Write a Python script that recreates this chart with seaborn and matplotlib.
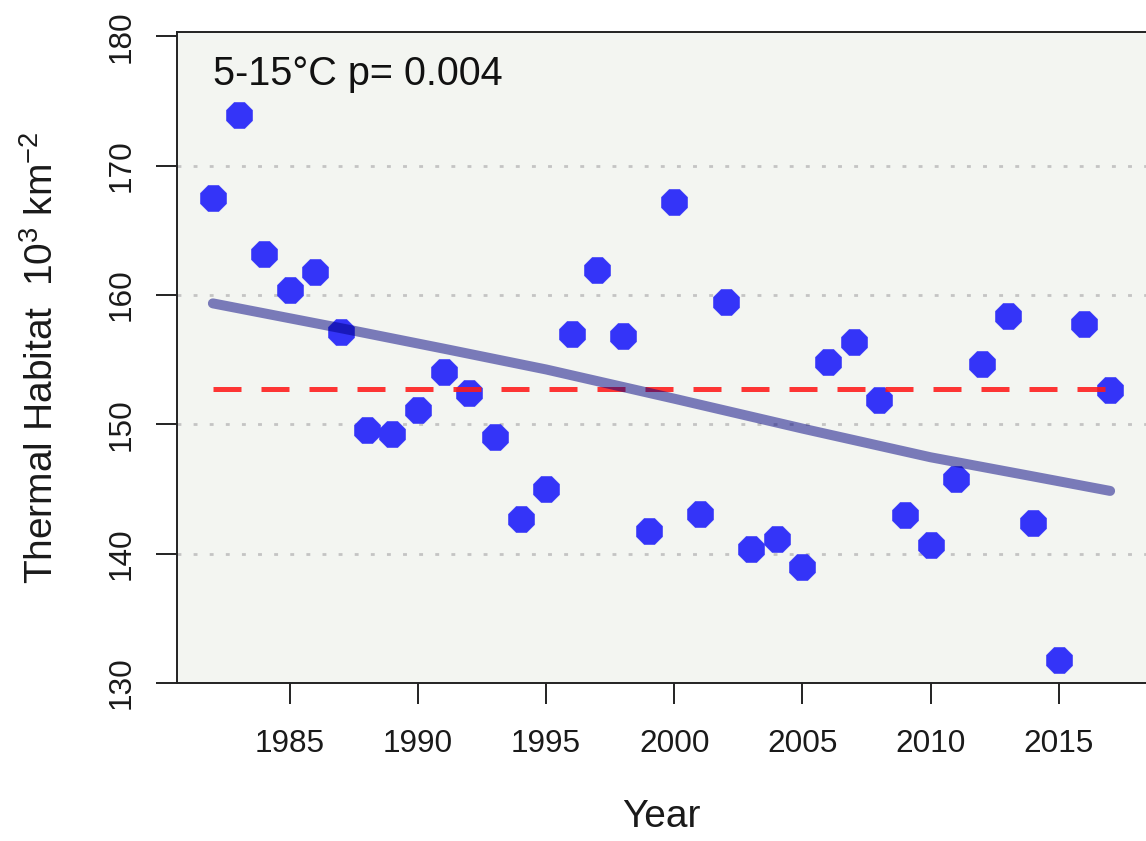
import matplotlib
matplotlib.use("Agg")
import matplotlib.pyplot as plt
import numpy as np
import pandas as pd
import seaborn as sns

# ---- data ----
years = list(range(1982, 2018))
habitat = [167.46, 173.95, 163.18, 160.41, 161.77, 157.15, 149.59, 149.28, 151.13,
           154.08, 152.41, 149.00, 142.67, 144.98, 156.95, 161.90, 156.82, 141.77,
           167.15, 143.10, 159.46, 140.36, 141.13, 138.95, 154.80, 156.33, 151.90,
           142.97, 140.67, 145.74, 154.67, 158.36, 142.36, 131.77, 157.75, 152.67]
trend_years = [1982, 1987, 1991, 1995, 2000, 2005, 2010, 2014, 2017]
trend_values = [159.35, 157.43, 155.85, 154.24, 151.98, 149.67, 147.45, 145.97, 144.85]
mean_level = 152.7
x_ticks = [1985, 1990, 1995, 2000, 2005, 2010, 2015]
y_ticks = [130, 140, 150, 160, 170, 180]
grid_levels = [140, 150, 160, 170]
annotation = "5-15\u00b0C p= 0.004"
x_label = "Year"
y_label = r"Thermal Habitat  10$^{3}$ km$^{-2}$"

df = pd.DataFrame({"Year": years, "Habitat": habitat})
trend_df = pd.DataFrame({"Year": trend_years, "Habitat": trend_values})
mean_df = pd.DataFrame({"Year": [years[0], years[-1]], "Habitat": [mean_level, mean_level]})

sns.set_theme(style="white")
plt.rcParams["font.family"] = ["Liberation Sans", "DejaVu Sans"]
plt.rcParams["mathtext.fontset"] = "custom"
plt.rcParams["mathtext.rm"] = "Liberation Sans"
plt.rcParams["mathtext.it"] = "Liberation Sans"
plt.rcParams["mathtext.bf"] = "Liberation Sans"

fig = plt.figure(figsize=(11.46, 8.41), dpi=100)
fig.patch.set_facecolor("white")
ax = fig.add_axes([177 / 1146, (841 - 683) / 841, (1146 - 177) / 1146, (683 - 32) / 841])
ax.set_facecolor("#f3f5f1")

for g in grid_levels:
    ax.axhline(g, color="#c4c4c4", lw=2.0, dashes=(1.4, 4.4), zorder=0.5)

sns.scatterplot(data=df, x="Year", y="Habitat", ax=ax, marker="8", s=400,
                color="#3434f8", edgecolor="#3434f8", linewidth=0.5, zorder=2, legend=False)

sns.lineplot(data=mean_df, x="Year", y="Habitat", ax=ax, color="#ff1a1a", alpha=0.88,
             lw=3.6, dashes=False, zorder=3, legend=False)
ax.lines[-1].set_dashes((5.6, 4.0))

sns.lineplot(data=trend_df, x="Year", y="Habitat", ax=ax, color="#000080", alpha=0.5,
             lw=7.2, zorder=4, legend=False)
ax.lines[-1].set_solid_capstyle("round")

ax.set_xlim(1980.6, 2018.4)
ax.set_ylim(130, 180.33)
ax.set_xticks(x_ticks)
ax.set_yticks(y_ticks)
ax.set_xticklabels([str(t) for t in x_ticks])
ax.set_yticklabels([str(t) for t in y_ticks], rotation=90, va="center")

ax.tick_params(axis="x", length=15, width=1.4, color="#222222", labelsize=22.7,
               pad=18, labelcolor="#1a1a1a", bottom=True)
ax.tick_params(axis="y", length=15, width=1.4, color="#222222", labelsize=22.7,
               pad=14, labelcolor="#1a1a1a", left=True)

for side in ["left", "bottom", "top"]:
    ax.spines[side].set_color("#222222")
    ax.spines[side].set_linewidth(1.4)
    ax.spines[side].set_visible(True)
ax.spines["right"].set_visible(False)

ax.set_xlabel(x_label, fontsize=28, color="#1a1a1a")
ax.xaxis.set_label_coords(0.5, (683 - 817) / 651)
ax.xaxis.label.set_va("center")
ax.set_ylabel(y_label, fontsize=28, color="#1a1a1a")
ax.yaxis.set_label_coords((42 - 177) / 969, 0.5)
ax.yaxis.label.set_va("center")

ax.text((213 - 177) / 969, (683 - 85) / 651, annotation, transform=ax.transAxes,
        fontsize=28.5, color="#111111", ha="left", va="baseline")

fig.savefig("out.png", dpi=100, facecolor="white")
